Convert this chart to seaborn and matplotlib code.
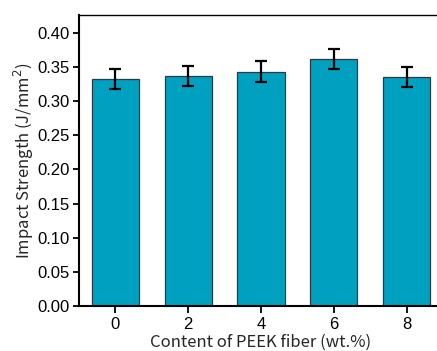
import matplotlib
matplotlib.use("Agg")
import matplotlib.pyplot as plt
import seaborn as sns
import pandas as pd

contents = ["0", "2", "4", "6", "8"]
strength = [0.332, 0.337, 0.343, 0.362, 0.335]
errors = [0.0146, 0.0146, 0.015, 0.0144, 0.0146]
yticks = [0.00, 0.05, 0.10, 0.15, 0.20, 0.25, 0.30, 0.35, 0.40]

df = pd.DataFrame({"content": contents, "strength": strength})

sns.set_style("ticks")
plt.rcParams["font.family"] = ["Liberation Sans", "DejaVu Sans"]

fig = plt.figure(figsize=(4.37, 3.51), dpi=100)
W, H = 437, 351
left, right, top, bottom = 79, 443, 15, 306
ax = fig.add_axes([left / W, 1 - bottom / H, (right - left) / W, (bottom - top) / H])

sns.barplot(data=df, x="content", y="strength", order=contents, color="#00A0C0",
            saturation=1, width=0.65, errorbar=None, edgecolor="#2b3a40",
            linewidth=0.9, ax=ax)
ax.errorbar(x=list(range(len(contents))), y=strength, yerr=errors, fmt="none",
            ecolor="black", elinewidth=1.6, capsize=4, capthick=1.6, zorder=5)

ax.set_xlim(-0.5, 4.5)
ax.set_ylim(0, 0.426)
ax.set_yticks(yticks)
ax.set_yticklabels([f"{v:.2f}" for v in yticks])
ax.tick_params(axis="both", labelsize=12, width=1.3, length=4, colors="black",
               direction="out", pad=2.5)
ax.tick_params(axis="x", length=5, pad=3)

for s in ["left", "bottom"]:
    ax.spines[s].set_linewidth(1.5)
    ax.spines[s].set_color("black")
ax.spines["top"].set_visible(True)
ax.spines["top"].set_linewidth(1.0)
ax.spines["top"].set_color("black")
ax.spines["right"].set_visible(False)

lab_font = ["Noto Sans CJK SC", "DejaVu Sans"]
ax.set_xlabel("Content of PEEK fiber (wt.%)", fontsize=12, family=lab_font, labelpad=1.5)
ax.set_ylabel("Impact Strength (J/mm$^2$)", fontsize=12, family=lab_font, labelpad=1)

fig.savefig("out.png", dpi=100)
